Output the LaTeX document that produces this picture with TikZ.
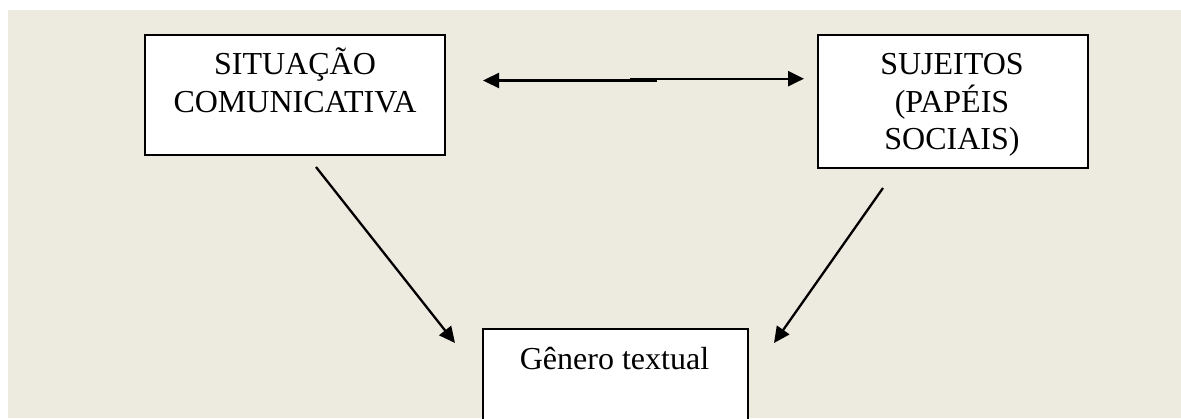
\documentclass[tikz,border=0pt]{standalone}
\usepackage{fontspec}
\setmainfont{Liberation Serif}
\usetikzlibrary{arrows.meta}
\definecolor{bg}{RGB}{237,234,224}
\begin{document}
\begin{tikzpicture}[x=1pt,y=-1pt,
  box/.style={draw=black, line width=1.6pt, fill=white, inner sep=0pt, anchor=north west},
  lbl/.style={font=\fontsize{32}{38}\selectfont, anchor=base, inner sep=0pt},
  conn/.style={line width=2.3pt, -{Triangle[length=16pt,width=15pt]}},
]
\useasboundingbox (0,0) rectangle (1181,418);
\clip (0,0) rectangle (1181,418);
\fill[white] (0,0) rectangle (1181,418);
\fill[bg] (8,10) rectangle (1181,418);

% boxes
\node[box, minimum width=300, minimum height=120] (b1) at (144,34) {};
\node[box, minimum width=270, minimum height=133] (b2) at (817,34) {};
\node[box, minimum width=265, minimum height=120] (b3) at (482,328) {};

% labels
\node[lbl] (t1a) at (295,74) {SITUAÇÃO};
\node[lbl] (t1b) at (295,112) {COMUNICATIVA};
\node[lbl] (t2a) at (952,74) {SUJEITOS};
\node[lbl] (t2b) at (952,112) {(PAPÉIS};
\node[lbl] (t2c) at (952,149) {SOCIAIS)};
\node[lbl] (t3) at (614.5,369) {Gênero textual};

% connector end points
\coordinate (aL) at (483,80.5);
\coordinate (m1) at (657,80.5);
\coordinate (m2) at (630,78.7);
\coordinate (aR) at (804,78.7);
\coordinate (s1) at (316,167);
\coordinate (e1) at (455,343);
\coordinate (s2) at (883,188);
\coordinate (e2) at (774,343);

% connectors
\draw[conn] (m1) -- (aL);
\draw[conn] (m2) -- (aR);
\draw[conn] (s1) -- (e1);
\draw[conn] (s2) -- (e2);
\end{tikzpicture}
\end{document}
